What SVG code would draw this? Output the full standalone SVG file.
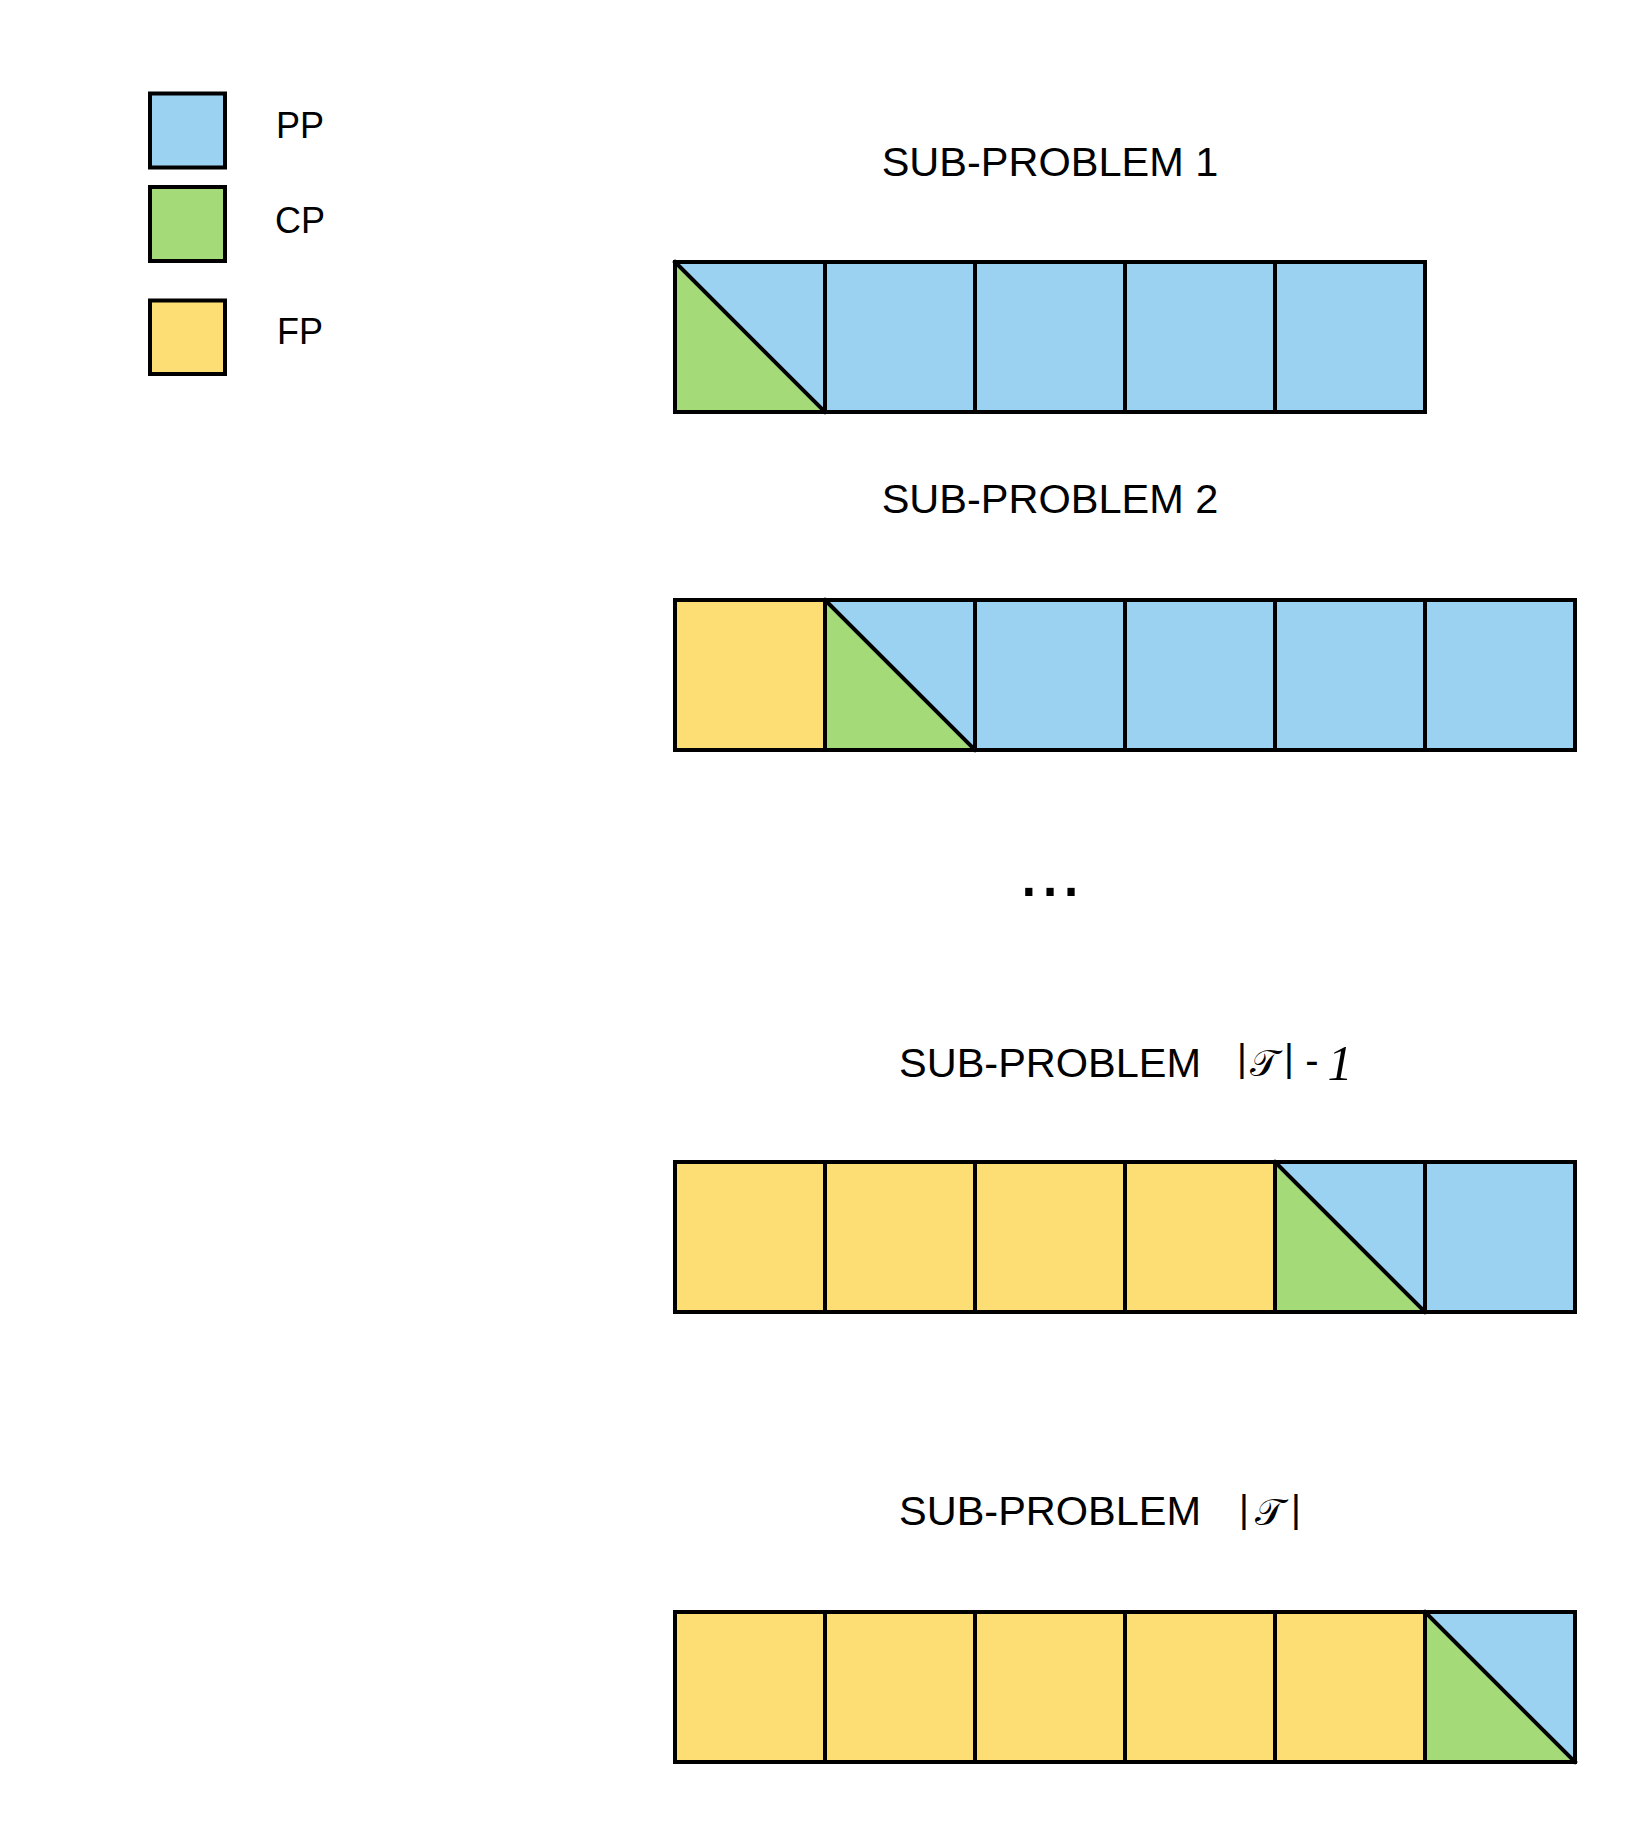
<svg xmlns="http://www.w3.org/2000/svg" width="1650" height="1838" viewBox="0 0 1650 1838">
<style>
.pp{fill:#9BD2F2;stroke:#000;stroke-width:4}
.cp{fill:#A4DA78;stroke:#000;stroke-width:4}
.fp{fill:#FDDE75;stroke:#000;stroke-width:4}
.bl{fill:#9BD2F2;stroke:none}
.gr{fill:#A4DA78;stroke:none}
.ol{fill:none;stroke:#000;stroke-width:4}
.dg{stroke:#000;stroke-width:4;stroke-linecap:square}
.t{font-family:"Liberation Sans",Arial,sans-serif;fill:#000}
.lg{font-size:36px;text-anchor:middle}
.hd{font-size:41.5px}
.m{font-family:"Liberation Serif","DejaVu Serif",serif;fill:#000}
</style>
<rect width="1650" height="1838" fill="#fff"/>
<g id="legend-pp"><rect class="pp" x="150" y="93.5" width="75" height="74"/><text class="t lg" x="300" y="138">PP</text></g>
<g id="legend-cp"><rect class="cp" x="150" y="187" width="75" height="74"/><text class="t lg" x="300" y="233">CP</text></g>
<g id="legend-fp"><rect class="fp" x="150" y="300.5" width="75" height="73.5"/><text class="t lg" x="300" y="344">FP</text></g>

<g id="label-1"><text class="t hd" x="1050" y="176" text-anchor="middle">SUB-PROBLEM 1</text></g>
<g id="row-1">
<rect class="bl" x="675" y="262" width="150" height="150"/>
<polygon class="gr" points="675,262 675,412 825,412"/>
<rect class="ol" x="675" y="262" width="150" height="150"/>
<line class="dg" x1="675" y1="262" x2="825" y2="412"/>
<rect class="pp" x="825" y="262" width="150" height="150"/>
<rect class="pp" x="975" y="262" width="150" height="150"/>
<rect class="pp" x="1125" y="262" width="150" height="150"/>
<rect class="pp" x="1275" y="262" width="150" height="150"/>
</g>

<g id="label-2"><text class="t hd" x="1050" y="513" text-anchor="middle">SUB-PROBLEM 2</text></g>
<g id="row-2">
<rect class="fp" x="675" y="600" width="150" height="150"/>
<rect class="bl" x="825" y="600" width="150" height="150"/>
<polygon class="gr" points="825,600 825,750 975,750"/>
<rect class="ol" x="825" y="600" width="150" height="150"/>
<line class="dg" x1="825" y1="600" x2="975" y2="750"/>
<rect class="pp" x="975" y="600" width="150" height="150"/>
<rect class="pp" x="1125" y="600" width="150" height="150"/>
<rect class="pp" x="1275" y="600" width="150" height="150"/>
<rect class="pp" x="1425" y="600" width="150" height="150"/>
</g>

<g id="ellipsis"><text class="t" x="1050" y="896" font-size="76" text-anchor="middle">...</text></g>

<g id="label-3">
<text class="t hd" x="899" y="1077">SUB-PROBLEM</text>
<text class="t" x="1242" y="1071" font-size="38" text-anchor="middle">|</text>
<text class="m" x="1264" y="1076" font-size="37" text-anchor="middle">𝒯</text>
<text class="t" x="1289" y="1071" font-size="38" text-anchor="middle">|</text>
<text class="t" x="1312" y="1074" font-size="40" text-anchor="middle">-</text>
<text class="m" x="1340" y="1080" font-size="50" font-style="italic" text-anchor="middle">1</text>
</g>
<g id="row-3">
<rect class="fp" x="675" y="1162" width="150" height="150"/>
<rect class="fp" x="825" y="1162" width="150" height="150"/>
<rect class="fp" x="975" y="1162" width="150" height="150"/>
<rect class="fp" x="1125" y="1162" width="150" height="150"/>
<rect class="bl" x="1275" y="1162" width="150" height="150"/>
<polygon class="gr" points="1275,1162 1275,1312 1425,1312"/>
<rect class="ol" x="1275" y="1162" width="150" height="150"/>
<line class="dg" x1="1275" y1="1162" x2="1425" y2="1312"/>
<rect class="pp" x="1425" y="1162" width="150" height="150"/>
</g>

<g id="label-4">
<text class="t hd" x="899" y="1525">SUB-PROBLEM</text>
<text class="t" x="1244" y="1522" font-size="38" text-anchor="middle">|</text>
<text class="m" x="1269" y="1525" font-size="38" text-anchor="middle">𝒯</text>
<text class="t" x="1296" y="1522" font-size="38" text-anchor="middle">|</text>
</g>
<g id="row-4">
<rect class="fp" x="675" y="1612" width="150" height="150"/>
<rect class="fp" x="825" y="1612" width="150" height="150"/>
<rect class="fp" x="975" y="1612" width="150" height="150"/>
<rect class="fp" x="1125" y="1612" width="150" height="150"/>
<rect class="fp" x="1275" y="1612" width="150" height="150"/>
<rect class="bl" x="1425" y="1612" width="150" height="150"/>
<polygon class="gr" points="1425,1612 1425,1762 1575,1762"/>
<rect class="ol" x="1425" y="1612" width="150" height="150"/>
<line class="dg" x1="1425" y1="1612" x2="1575" y2="1762"/>
</g>
</svg>
